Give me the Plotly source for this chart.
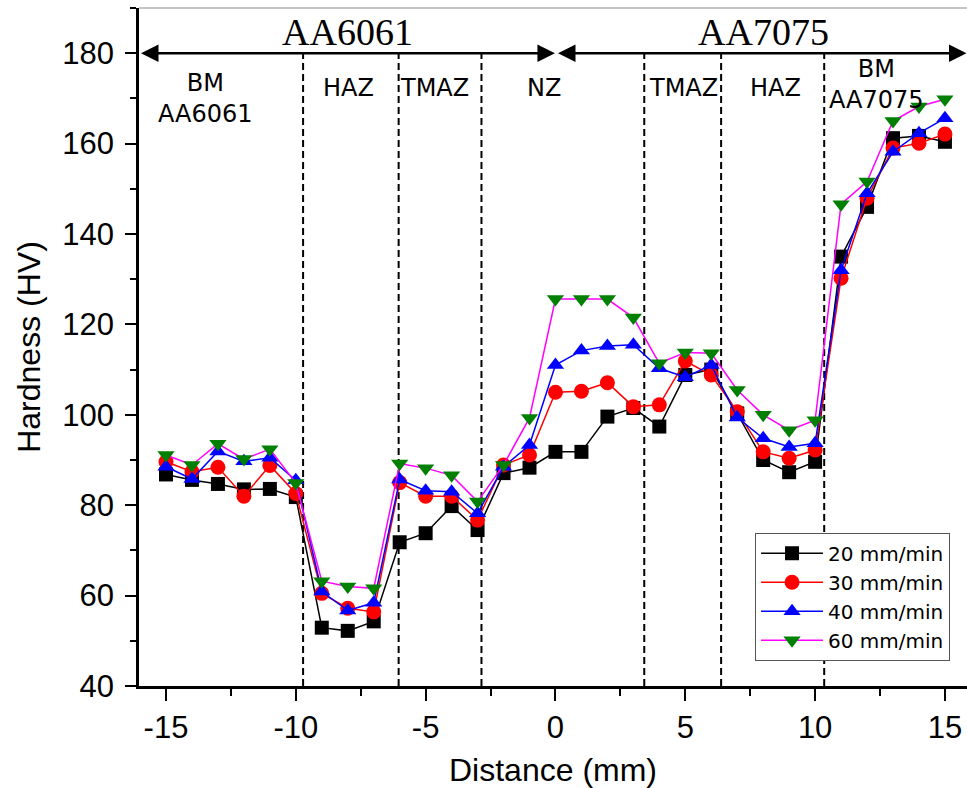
import plotly.graph_objects as go

# Measurement positions across the weld (mm)
distance = [-15, -14, -13, -12, -11, -10, -9, -8, -7, -6, -5, -4, -3, -2, -1,
            0, 1, 2, 3, 4, 5, 6, 7, 8, 9, 10, 11, 12, 13, 14, 15]

# Vickers hardness for each traverse speed
hv_20 = [86.8, 85.6, 84.7, 83.5, 83.6, 81.8, 52.9, 52.2, 54.3, 71.8, 73.8, 79.8, 74.5,
         87.1, 88.3, 91.8, 91.8, 99.6, 101.5, 97.4, 108.8, 110.0, 100.3, 90.0, 87.3, 89.6,
         135.0, 146.0, 161.2, 161.7, 160.4]
hv_30 = [89.6, 87.4, 88.4, 82.0, 88.8, 82.6, 60.5, 57.2, 56.4, 85.0, 82.0, 82.0, 76.7,
         88.9, 91.1, 105.0, 105.2, 107.1, 101.8, 102.2, 111.9, 108.8, 100.7, 91.8, 90.4, 92.2,
         130.2, 147.9, 159.0, 160.1, 162.1]
hv_40 = [88.5, 85.8, 91.9, 89.7, 90.5, 85.5, 60.9, 56.7, 58.4, 85.7, 83.2, 83.0, 78.2,
         88.5, 93.3, 111.0, 114.2, 115.2, 115.5, 110.3, 108.3, 111.0, 99.4, 94.8, 92.9, 93.7,
         132.0, 149.0, 158.2, 162.3, 165.6]
hv_60 = [91.1, 88.9, 93.6, 90.2, 92.4, 84.9, 63.2, 62.0, 61.6, 89.2, 88.2, 86.6, 80.8,
         88.9, 99.3, 125.6, 125.6, 125.6, 121.5, 111.4, 113.8, 113.6, 105.5, 100.0, 96.6, 98.8,
         146.6, 151.6, 165.0, 168.2, 169.8]

series_names = ["20 mm/min", "30 mm/min", "40 mm/min", "60 mm/min"]
line_colors = ["#000000", "#FF0000", "#0000FF", "#FF00FF"]
marker_colors = ["#000000", "#FF0000", "#0000FF", "#008000"]
marker_symbols = ["square", "circle", "triangle-up", "triangle-down"]
marker_sizes = [14, 15, 15, 15]

# Zone boundaries (mm) and zone labels
boundaries = [-9.72, -6.04, -2.85, 3.42, 6.38, 10.35]
zone_labels = ["BM<br>AA6061", "HAZ", "TMAZ", "NZ", "TMAZ", "HAZ", "BM<br>AA7075"]
zone_x = [-13.46, -7.96, -4.65, -0.46, 4.92, 8.46, 12.38]
zone_y = [169.9, 172.3, 172.3, 172.3, 172.3, 172.3, 173.1]
alloy_labels = ["AA6061", "AA7075"]
alloy_x = [-8.0, 8.0]

X_MIN, X_MAX = -16.04, 15.85
Y_MIN, Y_MAX = 40, 190

fig = go.Figure()
for vals, name, lc, mc, sym, ms in zip([hv_20, hv_30, hv_40, hv_60], series_names,
                                       line_colors, marker_colors, marker_symbols, marker_sizes):
    fig.add_trace(go.Scatter(
        x=distance, y=vals, name=name, mode="lines+markers",
        line=dict(color=lc, width=1.5),
        marker=dict(symbol=sym, size=ms, color=mc, line=dict(width=0)),
        cliponaxis=False,
    ))

shapes = []
for b in boundaries:
    shapes.append(dict(type="line", xref="x", yref="y", x0=b, x1=b, y0=Y_MIN, y1=180,
                       line=dict(color="black", width=2, dash="7px,4px"), layer="below"))
# thin grey top frame
shapes.append(dict(type="line", xref="paper", yref="paper", x0=0, x1=1, y0=1, y1=1,
                   line=dict(color="#b0b0b0", width=1.5)))

annotations = []
# double-headed arrows spanning each alloy side
for tail, head in [(X_MIN + 0.02, -0.02), (0.04, X_MAX - 0.02)]:
    annotations.append(dict(x=head, y=180, ax=tail, ay=180, xref="x", yref="y",
                            axref="x", ayref="y", text="", showarrow=True,
                            arrowside="end+start", arrowhead=2, arrowsize=1.4,
                            arrowwidth=2.5, arrowcolor="black", standoff=0, startstandoff=0))
for lbl, xx in zip(alloy_labels, alloy_x):
    annotations.append(dict(x=xx, y=184.6, xref="x", yref="y", text=lbl, showarrow=False,
                            yanchor="middle",
                            font=dict(family="Liberation Serif", size=38, color="black")))
for lbl, xx, yy in zip(zone_labels, zone_x, zone_y):
    annotations.append(dict(x=xx, y=yy, xref="x", yref="y", text=lbl, showarrow=False,
                            yanchor="middle", align="center",
                            font=dict(family="DejaVu Sans", size=24, color="black")))

fig.update_layout(
    width=967, height=788,
    margin=dict(l=139, r=0, t=8, b=102),
    paper_bgcolor="white", plot_bgcolor="white",
    font=dict(family="Liberation Sans", color="black"),
    shapes=shapes, annotations=annotations,
    showlegend=True,
    legend=dict(x=0.744, y=0.226, xanchor="left", yanchor="top",
                bgcolor="white", bordercolor="#555555", borderwidth=1,
                font=dict(family="DejaVu Sans", size=20, color="black"),
                itemwidth=62, tracegroupgap=0),
)
fig.update_xaxes(
    range=[X_MIN, X_MAX], showgrid=False, zeroline=False,
    showline=True, linecolor="black", linewidth=2.5,
    ticks="outside", tickwidth=2, ticklen=12, tickcolor="black",
    tickmode="array", tickvals=[-15, -10, -5, 0, 5, 10, 15],
    ticktext=["-15", "-10", "-5", "0", "5", "10", "15"],
    minor=dict(tickvals=[-12.5, -7.5, -2.5, 2.5, 7.5, 12.5], ticks="outside",
               ticklen=7, tickwidth=2, tickcolor="black"),
    tickfont=dict(size=31, family="Liberation Sans"),
    title=dict(text="Distance (mm)", font=dict(size=32, family="Liberation Sans"), standoff=20),
)
fig.update_yaxes(
    range=[Y_MIN, Y_MAX], showgrid=False, zeroline=False,
    showline=True, linecolor="black", linewidth=2.5,
    ticks="outside", tickwidth=2, ticklen=11, tickcolor="black",
    tickmode="array", tickvals=[40, 60, 80, 100, 120, 140, 160, 180],
    minor=dict(tickvals=[50, 70, 90, 110, 130, 150, 170, 190], ticks="outside",
               ticklen=6, tickwidth=2, tickcolor="black"),
    tickfont=dict(size=31, family="Liberation Sans"),
    ticklabelstandoff=5,
    title=dict(text="Hardness (HV)", font=dict(size=32, family="Liberation Sans"), standoff=13),
)

fig.write_html("out.html")
